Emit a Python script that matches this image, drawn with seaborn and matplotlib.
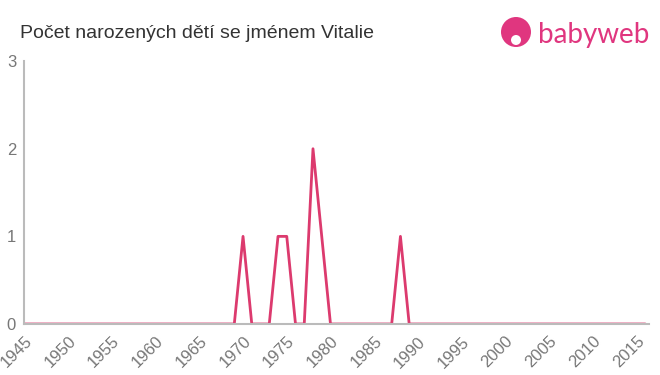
import matplotlib
matplotlib.use("Agg")
import matplotlib.pyplot as plt
import seaborn as sns
import pandas as pd
from matplotlib.patches import Ellipse

years = list(range(1945, 2017))
nonzero = {1970: 1, 1974: 1, 1975: 1, 1978: 2, 1979: 1, 1988: 1}
counts = [nonzero.get(y, 0) for y in years]
x_ticks = list(range(1945, 2016, 5))
y_ticks = [0, 1, 2, 3]
title = "Počet narozených dětí se jménem Vitalie"

df = pd.DataFrame({"year": years, "count": counts})

sns.set_theme(style="white")
plt.rcParams['font.family'] = ['Liberation Sans', 'DejaVu Sans']

W, H = 660, 375
fig = plt.figure(figsize=(6.6, 3.75), dpi=100)
ax = fig.add_axes([0.037, 0.136, 0.946, 0.701])
sns.lineplot(data=df, x="year", y="count", ax=ax, color="#dc3a6e", linewidth=2)

ax.set_xlim(1945, 2016.4)
ax.set_ylim(0, 3)
ax.set_xticks(x_ticks)
ax.set_xticklabels([str(t) for t in x_ticks], rotation=45, ha="right", rotation_mode="anchor")
ax.set_yticks(y_ticks)
ax.set_xlabel("")
ax.set_ylabel("")
for s in ["top", "right"]:
    ax.spines[s].set_visible(False)
for s in ["left", "bottom"]:
    ax.spines[s].set_color("#bbbbbb")
    ax.spines[s].set_linewidth(1.5)
ax.tick_params(axis="both", colors="#bbbbbb", length=4, width=1.2, labelcolor="#777777", labelsize=12, pad=2)
ax.tick_params(axis="x", pad=3)

fig.text(20 / W, 1 - 33 / H, title, fontsize=14, color="#333333", va="center", ha="left")

# logo
logo_color = "#e0367f"
fig.patches.append(Ellipse((516 / W, 1 - 32 / H), 30 / W, 30 / H, transform=fig.transFigure,
                           facecolor=logo_color, edgecolor="none"))
fig.patches.append(Ellipse((516 / W, 1 - 40 / H), 10 / W, 10 / H, transform=fig.transFigure,
                           facecolor="white", edgecolor="none"))
fig.text(538 / W, 1 - 35 / H, "babyweb", fontsize=20, color=logo_color, va="center", ha="left",
         family=["Lato", "DejaVu Sans"])

fig.savefig("out.png", dpi=100)
